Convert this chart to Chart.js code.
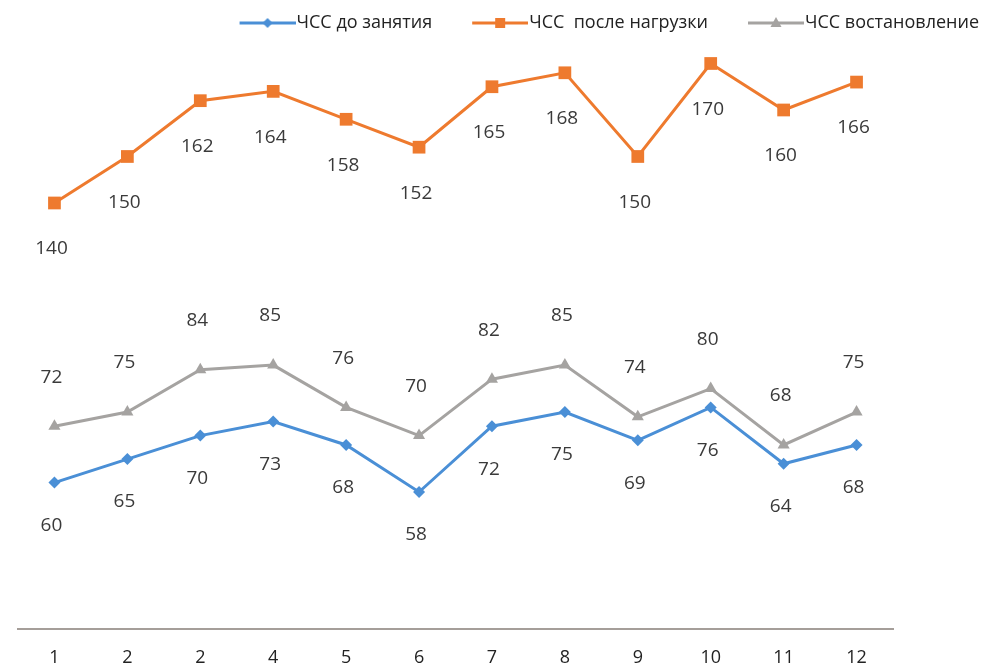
<!DOCTYPE html>
<html>
<head>
<meta charset="utf-8">
<script src="https://cdn.jsdelivr.net/npm/chart.js@4.4.1/dist/chart.umd.min.js"></script>
<style>
  html, body { margin: 0; padding: 0; background: #fff; }
  #wrap { width: 989px; height: 668px; position: relative; }
</style>
</head>
<body>
<div id="wrap"><canvas id="hr"></canvas></div>
<script>
// подписи по оси X (как в исходнике: "2" повторяется)
const lessons = ['1', '2', '2', '4', '5', '6', '7', '8', '9', '10', '11', '12'];

const hrBefore = [60, 65, 70, 73, 68, 58, 72, 75, 69, 76, 64, 68];
const hrLoad = [140, 150, 162, 164, 158, 152, 165, 168, 150, 170, 160, 166];
const hrRecovery = [72, 75, 84, 85, 76, 70, 82, 85, 74, 80, 68, 75];

const seriesNames = ['ЧСС до занятия', 'ЧСС  после нагрузки', 'ЧСС востановление'];

const BLUE = '#4a8fd6';
const ORANGE = '#ee7a2e';
const GRAY = '#a5a3a1';
const FONT = '"Open Sans", "Noto Sans", sans-serif';

// маленькая картинка "линия + маркер" для легенды
function legendIcon(color, style) {
    const c = document.createElement('canvas');
    c.width = 94;
    c.height = 14;
    const g = c.getContext('2d');
    g.strokeStyle = color;
    g.lineWidth = 3;
    g.beginPath();
    g.moveTo(94 - 56, 7);
    g.lineTo(94, 7);
    g.stroke();
    g.fillStyle = color;
    const cx = 94 - 28, cy = 7;
    g.beginPath();
    if (style === 'rect') {
        g.rect(cx - 5, cy - 5, 10, 10);
    } else if (style === 'rectRot') {
        g.moveTo(cx, cy - 5); g.lineTo(cx + 5, cy); g.lineTo(cx, cy + 5); g.lineTo(cx - 5, cy);
    } else {
        g.moveTo(cx, cy - 6); g.lineTo(cx + 5.5, cy + 4); g.lineTo(cx - 5.5, cy + 4);
    }
    g.closePath();
    g.fill();
    return c;
}

// подписи значений у точек
const valueLabels = {
    id: 'valueLabels',
    afterDatasetsDraw(chart) {
        const ctx = chart.ctx;
        ctx.save();
        ctx.font = '19px ' + FONT;
        ctx.fillStyle = '#3a3a3a';
        ctx.textAlign = 'center';
        ctx.textBaseline = 'middle';
        chart.data.datasets.forEach((ds, i) => {
            const meta = chart.getDatasetMeta(i);
            meta.data.forEach((pt, j) => {
                ctx.fillText(String(ds.data[j]), pt.x - 3, pt.y + ds.labelShift);
            });
        });
        ctx.restore();
    }
};

const ctx = document.getElementById('hr').getContext('2d');
new Chart(ctx, {
    type: 'line',
    data: {
        labels: lessons,
        datasets: [
            {
                label: seriesNames[0],
                data: hrBefore,
                borderColor: BLUE,
                backgroundColor: BLUE,
                borderWidth: 3,
                pointStyle: 'rectRot',
                pointRadius: 6,
                pointBorderWidth: 0,
                yAxisID: 'y',
                labelShift: 43,
                icon: legendIcon(BLUE, 'rectRot')
            },
            {
                label: seriesNames[1],
                data: hrLoad,
                borderColor: ORANGE,
                backgroundColor: ORANGE,
                borderWidth: 3,
                pointStyle: 'rect',
                pointRadius: 9,
                pointBorderWidth: 0,
                yAxisID: 'y1',
                labelShift: 46,
                icon: legendIcon(ORANGE, 'rect')
            },
            {
                label: seriesNames[2],
                data: hrRecovery,
                borderColor: GRAY,
                backgroundColor: GRAY,
                borderWidth: 3,
                pointStyle: 'triangle',
                pointRadius: 7,
                pointBorderWidth: 0,
                yAxisID: 'y',
                labelShift: -49,
                icon: legendIcon(GRAY, 'triangle')
            }
        ]
    },
    options: {
        responsive: true,
        maintainAspectRatio: false,
        animation: false,
        layout: { padding: { top: 4, right: 0, bottom: 0, left: 0 } },
        elements: { line: { tension: 0 } },
        scales: {
            x: {
                offset: true,
                grid: { display: false, drawTicks: false },
                border: { display: true, color: '#a59e99', width: 2 },
                ticks: { color: '#222', padding: 18, font: { family: FONT, size: 18 } },
                afterFit: (scale) => { scale.height = 39; }
            },
            y: {
                position: 'left',
                min: 28.85,
                max: 153.74,
                grid: { display: false, drawTicks: false },
                border: { display: false },
                ticks: { display: false },
                afterFit: (scale) => { scale.width = 18; }
            },
            y1: {
                position: 'right',
                min: 48.39,
                max: 174.62,
                grid: { display: false, drawTicks: false },
                border: { display: false },
                ticks: { display: false },
                afterFit: (scale) => { scale.width = 96; }
            }
        },
        plugins: {
            tooltip: { enabled: false },
            legend: {
                display: true,
                align: 'end',
                labels: {
                    usePointStyle: true,
                    pointStyleWidth: 78,
                    padding: 10,
                    color: '#222',
                    font: { family: FONT, size: 18 },
                    generateLabels(chart) {
                        const items = Chart.defaults.plugins.legend.labels.generateLabels(chart);
                        items.forEach(it => {
                            it.pointStyle = chart.data.datasets[it.datasetIndex].icon;
                        });
                        return items;
                    }
                }
            }
        }
    },
    plugins: [valueLabels]
});
</script>
</body>
</html>
